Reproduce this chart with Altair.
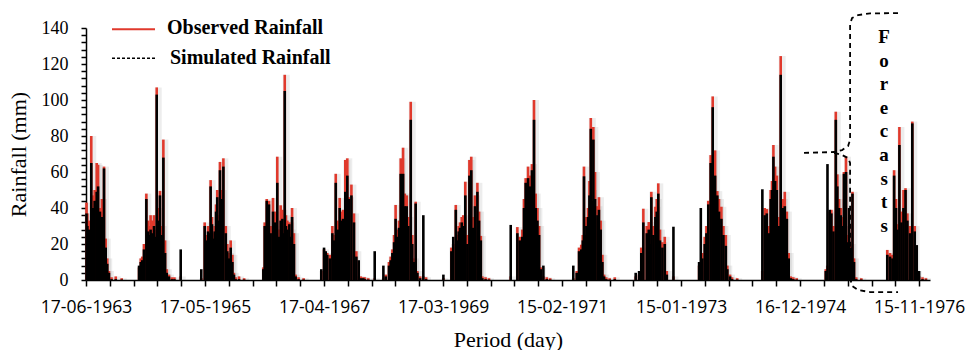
import altair as alt
import pandas as pd

# ---------------- data (day index from 17-06-1963, rainfall mm) ----------------
day_1963 = [3, 8, 18, 31, 41, 51, 63, 71, 82, 94, 106, 116, 125, 135]
obs_1963 = [43, 37, 33, 80, 47, 50, 65, 64, 40, 45, 63, 23, 12, 5]
sim_1963 = [37, 30, 28, 65, 40, 44, 49, 52, 38, 35, 62, 18, 9, 4]

day_1964 = [312, 322, 331, 341, 355, 365, 375, 380, 390, 400, 408, 416, 425, 435, 445, 455, 465, 475, 488]
obs_1964 = [7, 12, 13, 20, 48, 33, 30, 36, 33, 36, 28, 107, 40, 49.5, 30, 78, 22, 6, 3]
sim_1964 = [8, 10, 11, 17, 45, 27, 25, 28, 26, 30, 24, 103, 33, 47, 25, 68, 15, 4, 2]

day_1965 = [698, 708, 718, 725, 733, 741, 749, 757, 765, 772, 781, 788, 798, 808, 822, 831, 841, 851, 861, 870]
obs_1965 = [32, 25, 30, 28, 55.5, 35, 26, 30, 42, 50, 36, 65.6, 50, 67.6, 30, 20, 15, 22, 14, 4]
sim_1965 = [30, 22, 27, 26, 52, 31, 23, 27, 38, 46, 33, 61, 45, 63, 26, 16, 12, 18, 10, 3]

day_1966 = [1043, 1051, 1063, 1076, 1086, 1100, 1110, 1118, 1125, 1135, 1145, 1155, 1161, 1169, 1176, 1184, 1196, 1204, 1212, 1223, 1233]
obs_1966 = [7, 32, 45, 44, 30, 45.6, 38, 30, 68.5, 28, 41.5, 39, 30, 114, 36, 33, 32, 28, 40, 26, 3]
sim_1966 = [6, 30, 44, 42, 26, 38, 32, 26, 54, 24, 33, 34, 26, 105, 30, 28, 31, 24, 35, 20, 2]

day_1967 = [1384, 1400, 1410, 1419, 1435, 1449, 1459, 1469, 1482, 1492, 1502, 1512, 1525, 1537, 1547, 1561, 1576, 1590, 1604, 1616, 1631]
obs_1967 = [5, 17, 14, 15, 14, 30, 25, 59, 33, 45.6, 38, 39, 66.7, 67.6, 46, 53, 37, 16, 2, 2, 1.5]
sim_1967 = [6, 18, 16, 14, 12, 26, 22, 54, 28, 40, 33, 34, 49, 58, 45, 47, 32, 13, 11, 1, 1]

day_1968 = [1763, 1782, 1792, 1802, 1812, 1821, 1831, 1841, 1851, 1865, 1875, 1886, 1896, 1910, 1919, 1929, 1939, 1949, 1965]
obs_1968 = [3, 10, 13, 17, 25, 41.7, 28, 33, 67.6, 73.5, 48, 47, 35, 99, 25, 12, 43.5, 5, 2]
sim_1968 = [2, 8, 11, 15, 21, 34, 24, 29, 59, 59, 41, 41, 30, 89, 20, 10, 42.5, 4, 1]

day_1969 = [2149, 2160, 2175, 2184, 2192, 2200, 2210, 2219, 2231, 2243, 2255, 2266, 2278, 2288, 2302, 2312, 2322, 2331]
obs_1969 = [18, 20, 41.7, 25, 30, 32, 35, 36, 54.6, 25, 66.7, 68.5, 35, 47, 54, 38, 24.5, 2]
sim_1969 = [16, 24, 39, 22, 27, 29, 32, 30, 47, 20, 58, 61, 29, 41, 49, 33, 22, 1]

day_1970 = [2537, 2551, 2561, 2566, 2576, 2586, 2600, 2612, 2623, 2635, 2645, 2655, 2665, 2675, 2690]
obs_1970 = [29.4, 24, 15, 28, 45, 56.6, 63, 58, 64.4, 100, 48, 40, 30, 7, 2]
sim_1970 = [26, 22, 13, 24, 40, 54, 56.6, 52, 61, 89, 40, 33, 25, 6, 8]

day_1971 = [2886, 2900, 2913, 2922, 2929, 2937, 2943, 2953, 2961, 2969, 2976, 2984, 2994, 3008, 3017, 3027, 3037, 3047]
obs_1971 = [5, 18, 19.6, 25, 63, 32, 35, 40, 55, 90, 50, 85, 60, 41, 46, 33, 14, 3]
sim_1971 = [4, 16, 17, 22, 57.6, 25, 30, 35, 47, 84, 44, 78, 45, 36, 39, 28, 10, 2]

day_1972 = [3233, 3253, 3266, 3278, 3298, 3310, 3317, 3325, 3337, 3349, 3357, 3366, 3376, 3390, 3404, 3416]
obs_1972 = [2, 3, 18, 39.6, 30, 32.2, 25, 49, 30, 40.7, 45, 53.7, 28, 21, 24, 5]
sim_1972 = [4, 5, 15, 32, 26, 28, 20, 46, 25, 35, 38, 48, 22, 18, 20, 3]

day_1973 = [3606, 3616, 3625, 3639, 3649, 3660, 3674, 3686, 3700, 3713, 3723, 3737, 3749, 3763, 3772, 3788]
obs_1973 = [8, 5, 15, 24, 30, 44, 69.4, 102, 72, 49.4, 45, 40.7, 30, 25, 8, 3]
sim_1973 = [10, 40, 12, 20, 26, 42, 65, 96, 58, 47, 38, 34, 25, 19, 6, 2]

day_1974 = [3978, 3992, 4004, 4017, 4027, 4035, 4043, 4053, 4063, 4075, 4086, 4098, 4110, 4122, 4133, 4145]
obs_1974 = [5, 40, 39.4, 30, 50, 55, 75, 63, 58, 35, 124.4, 45, 49, 38, 15, 2]
sim_1974 = [50.4, 36, 37, 26, 45, 50, 68.5, 55, 50, 30, 114, 40, 41, 34, 12, 1]

day_1975 = [4351, 4361, 4374, 4384, 4396, 4410, 4419, 4429, 4439, 4449, 4458, 4470, 4478, 4488, 4498, 4508, 4517]
obs_1975 = [6, 8, 38, 39, 30, 93.5, 58.7, 45, 40, 35, 60, 68.5, 25, 30, 20, 49, 12]
sim_1975 = [5, 64.4, 39, 37, 27, 89, 52, 40, 36, 30, 59, 60, 21, 40, 18, 48, 10]

day_1976 = [4713, 4729, 4743, 4753, 4764, 4772, 4784, 4796, 4808, 4820, 4831, 4847, 4860, 4874, 4886, 4900]
obs_1976 = [16.7, 15, 14, 61, 45, 31, 85, 38, 50, 51, 37, 30, 88, 30, 5, 2]
sim_1976 = [14, 13, 12, 58, 40, 28, 75, 32, 40, 50, 33, 26, 87, 27, 19.4, 5]

# dry-season days: isolated simulated spikes and small observed amounts
day_dry = [150, 175, 210, 505, 520, 557, 678, 880, 900, 930, 1250, 1280, 1640, 1660, 1698, 1749,
           1984, 2000, 2102, 2350, 2370, 2498, 2710, 2730, 2866, 3060, 3080, 3110, 3455, 3800,
           3830, 4160, 4180, 4530, 4560, 4920, 4940]
obs_dry = [1.5, 2, 1, 1.5, 1.5, 2, 1, 1.5, 2, 1, 1.5, 1, 1.5, 1, 1, 1,
           2, 1.5, 1, 1.5, 1, 2, 1.5, 1, 1, 1.5, 1, 1.5, 2, 1.5,
           1, 1.5, 1, 1.5, 1, 1.5, 1]
sim_dry = [0.5, 0.5, 0.3, 0.5, 0.5, 17, 6, 0.5, 0.5, 0.3, 0.5, 0.3, 0.5, 0.3, 16, 8,
           36, 0.5, 3, 0.5, 0.3, 30.6, 0.5, 0.3, 8, 0.5, 0.3, 0.5, 29.6, 0.5,
           0.3, 0.5, 0.3, 0.5, 0.3, 0.5, 0.3]

tick_labels = ["17-06-1963", "17-05-1965", "17-04-1967", "17-03-1969",
               "15-02-1971", "15-01-1973", "16-12-1974", "15-11-1976"]

# forecast brace annotation (day, mm)
brace_upper_day = [4776, 4612, 4541, 4506, 4494, 4494, 4482, 4447, 4400, 4217]
brace_upper_mm = [148.3, 148.1, 147.2, 145.6, 142.2, 77.8, 74.4, 72.2, 71.1, 70.6]
brace_lower_day = [4400, 4447, 4482, 4494, 4494, 4506, 4541, 4612, 4776]
brace_lower_mm = [70.6, 69.4, 67.8, 65.0, 1.1, -3.3, -5.6, -6.7, -6.7]

# ---------------- build tables ----------------
seasons = [
    (day_1963, obs_1963, sim_1963), (day_1964, obs_1964, sim_1964), (day_1965, obs_1965, sim_1965),
    (day_1966, obs_1966, sim_1966), (day_1967, obs_1967, sim_1967), (day_1968, obs_1968, sim_1968),
    (day_1969, obs_1969, sim_1969), (day_1970, obs_1970, sim_1970), (day_1971, obs_1971, sim_1971),
    (day_1972, obs_1972, sim_1972), (day_1973, obs_1973, sim_1973), (day_1974, obs_1974, sim_1974),
    (day_1975, obs_1975, sim_1975), (day_1976, obs_1976, sim_1976), (day_dry, obs_dry, sim_dry),
]
rows = []
for d, o, s in seasons:
    for a, b, c in zip(d, o, s):
        rows.append({"day": a, "obs": b, "sim": c})
df = pd.DataFrame(rows)

brace = pd.DataFrame(
    [{"seg": "u", "ord": i, "day": x, "obs": y} for i, (x, y) in enumerate(zip(brace_upper_day, brace_upper_mm))]
    + [{"seg": "l", "ord": i, "day": x, "obs": y} for i, (x, y) in enumerate(zip(brace_lower_day, brace_lower_mm))]
)

xscale = alt.Scale(domain=[0, 4964], nice=False, zero=False)
yscale = alt.Scale(domain=[0, 140], nice=False)

label_list = "[" + ",".join("'%s'" % t for t in tick_labels) + "]"
x_axis = alt.Axis(
    values=list(range(0, 4901, 140)),
    labelExpr="datum.value % 700 == 0 ? " + label_list + "[datum.value / 700] : ''",
    title="Period (day)", grid=False, tickSize=6, tickWidth=1.5, tickColor="black",
    domainColor="black", domainWidth=1.5, labelFont="Open Sans", labelFontSize=17.5,
    labelColor="black", labelPadding=12, labelFlush=False, labelOverlap=False,
    titleFont="Liberation Serif", titleFontSize=22, titleFontWeight="normal",
    titleColor="black", titleY=59, titleBaseline="middle",
)
y_axis = alt.Axis(
    values=list(range(0, 141, 4)),
    labelExpr="datum.value % 20 == 0 ? datum.label : ''",
    title="Rainfall (mm)", grid=False, tickSize=5, tickWidth=1.5, tickColor="black",
    domainColor="black", domainWidth=1.5, labelFont="Liberation Serif", labelFontSize=18,
    labelColor="black", labelPadding=13, labelOverlap=False, labelFlush=False,
    titleFont="Liberation Serif", titleFontSize=22, titleFontWeight="normal",
    titleColor="black", titleX=-68, titleY=126, titleAngle=270,
    titleAlign="center", titleBaseline="middle",
)

X = alt.X("day:Q", scale=xscale, axis=x_axis)

base = alt.Chart(df)
shadow = base.mark_rule(color="#000000", opacity=0.07, strokeWidth=7, xOffset=1.5).encode(
    x=X, y=alt.Y("obs:Q", scale=yscale, axis=y_axis), y2=alt.datum(0),
)
obs_rules = base.mark_rule(color="#e0392c", strokeWidth=2.6).encode(
    x=X, y=alt.Y("obs:Q", scale=yscale, axis=y_axis), y2=alt.datum(0),
)
sim_rules = base.mark_rule(color="#000000", strokeWidth=2.6).encode(
    x=X, y=alt.Y("sim:Q", scale=yscale, axis=y_axis), y2=alt.datum(0),
)

brace_line = alt.Chart(brace).mark_line(
    color="black", strokeWidth=1.8, strokeDash=[5, 4]
).encode(
    x=X, y=alt.Y("obs:Q", scale=yscale, axis=y_axis),
    detail="seg:N", order="ord:Q",
)

one = pd.DataFrame({"k": [0]})
forecast_text = alt.Chart(pd.DataFrame({"day": [4694], "obs": [131.7], "t": ["F\no\nr\ne\nc\na\ns\nt\ns"]})).mark_text(
    font="Liberation Serif", fontSize=19, fontWeight="bold", color="black",
    lineBreak="\n", lineHeight=23.6, align="center", baseline="alphabetic",
).encode(
    x=X, y=alt.Y("obs:Q", scale=yscale, axis=y_axis), text="t:N",
)

leg_obs_line = alt.Chart(one).mark_rule(color="#e0392c", strokeWidth=2).encode(
    x=alt.value(26), x2=alt.value(69), y=alt.value(1.3))
leg_sim_line = alt.Chart(one).mark_rule(color="black", strokeWidth=1.5, strokeDash=[3, 2]).encode(
    x=alt.value(26), x2=alt.value(69), y=alt.value(30.3))
leg_obs_text = alt.Chart(one).mark_text(
    font="Liberation Serif", fontSize=20, fontWeight="bold", color="black",
    align="left", baseline="middle").encode(
    x=alt.value(81), y=alt.value(0), text=alt.value("Observed Rainfall"))
leg_sim_text = alt.Chart(one).mark_text(
    font="Liberation Serif", fontSize=20, fontWeight="bold", color="black",
    align="left", baseline="middle").encode(
    x=alt.value(84), y=alt.value(29.5), text=alt.value("Simulated Rainfall"))

chart = alt.layer(
    shadow, obs_rules, sim_rules, brace_line, forecast_text,
    leg_obs_line, leg_sim_line, leg_obs_text, leg_sim_text,
).properties(
    width=844, height=252,
    autosize=alt.AutoSizeParams(type="none"),
    padding={"left": 86, "top": 28, "right": 36, "bottom": 70},
    background="white",
).configure_view(stroke=None)

chart.save("out.html", embed_options={"renderer": "svg", "actions": False})
